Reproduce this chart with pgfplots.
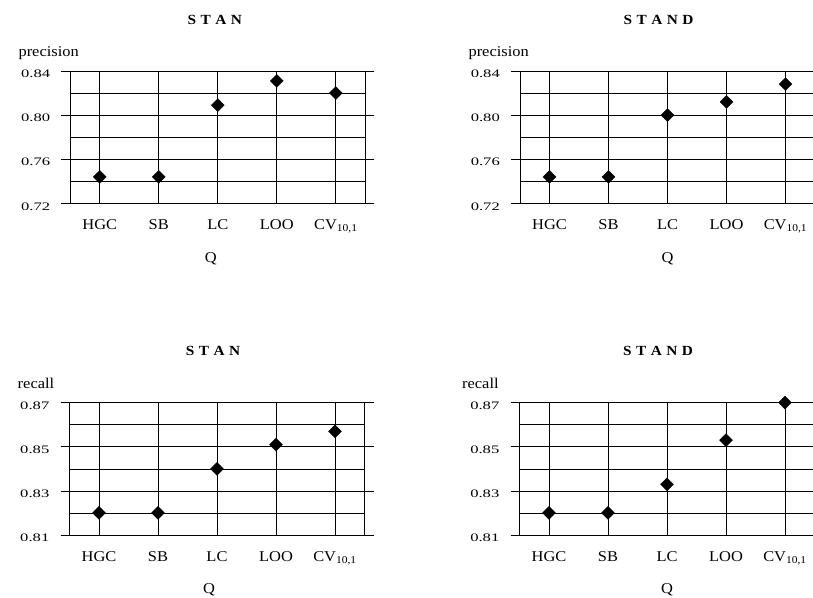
\documentclass[border=0pt]{standalone}
\usepackage{fontspec}
\setmainfont{Liberation Serif}[FakeStretch=1.1]
\newfontfamily\tickfont{Liberation Serif}[FakeStretch=1.45]
\usepackage{pgfplots}
\pgfplotsset{compat=1.18}
\pgfplotsset{
 panel/.style={
  scale only axis, width=295bp, height=132.3bp,
  xmin=-0.5, xmax=4.5, xtick={0,1,2,3,4},
  xticklabels={HGC,SB,LC,LOO,CV\textsubscript{10,1}},
  xmajorgrids, ymajorgrids, yminorgrids,
  grid style={black, line width=0.7bp},
  minor grid style={black, line width=0.7bp},
  axis line style={black, line width=0.7bp},
  tick align=outside, major tick length=9bp, minor tick length=0pt,
  xtick style={draw=none},
  ytick style={black, line width=0.7bp},
  xticklabel style={anchor=base, yshift=-17bp},
  yticklabel style={anchor=east, xshift=-6bp, yshift=-3bp, font=\fontsize{11.5}{13}\tickfont},
  ylabel style={rotate=-90, anchor=base west},
  xlabel=Q,
  xlabel style={anchor=base},
  title style={at={(axis description cs:0.5,1)}, anchor=base, yshift=41bp, font=\fontsize{14}{16}\selectfont\bfseries},
 },
 prec/.style={ymin=0.72, ymax=0.84, ytick={0.72,0.76,0.80,0.84}, yticklabels={0.72,0.76,0.80,0.84}, minor ytick={0.74,0.78,0.82}, ylabel=precision},
 rec/.style={ymin=0.81, ymax=0.87, ytick={0.81,0.83,0.85,0.87}, yticklabels={0.81,0.83,0.85,0.87}, minor ytick={0.82,0.84,0.86}, ylabel=recall},
 pts/.style={only marks, mark=square*, mark size=4.6bp, black, mark options={rotate=45, fill=black, draw=black, line width=0.3bp}},
}
\begin{document}
\fontsize{15}{17}\selectfont
\begin{tikzpicture}
\useasboundingbox (0,0) rectangle (813bp,598bp);
\clip (0,0) rectangle (813bp,598bp);
% top left
\begin{axis}[panel, prec, overlay, at={(70.3bp,394.7bp)}, anchor=south west,
  title={S\kern4.5bp T\kern4.5bp A\kern4.5bp N}, title style={xshift=-3bp},
  ylabel style={at={(axis description cs:-0.193,1.11)}},
  xlabel style={at={(axis description cs:0.5,-0.445)}, xshift=-7bp}]
\addplot[pts] coordinates {(0,0.744) (1,0.744) (2,0.809) (3,0.831) (4,0.820)};
\end{axis}
% top right
\begin{axis}[panel, prec, overlay, at={(520bp,394.7bp)}, anchor=south west,
  title={S\kern4.5bp T\kern4.5bp A\kern4.5bp N\kern4.5bp D}, title style={xshift=-9bp},
  ylabel style={at={(axis description cs:-0.192,1.11)}},
  xlabel style={at={(axis description cs:0.5,-0.445)}}]
\addplot[pts] coordinates {(0,0.744) (1,0.744) (2,0.800) (3,0.812) (4,0.828)};
\end{axis}
% bottom left
\begin{axis}[panel, rec, overlay, at={(69.5bp,63bp)}, anchor=south west,
  title={S\kern4.5bp T\kern4.5bp A\kern4.5bp N}, title style={xshift=-4bp},
  ylabel style={at={(axis description cs:-0.193,1.105)}},
  xlabel style={at={(axis description cs:0.5,-0.445)}, xshift=-8bp}]
\addplot[pts] coordinates {(0,0.820) (1,0.820) (2,0.840) (3,0.851) (4,0.857)};
\end{axis}
% bottom right
\begin{axis}[panel, rec, overlay, at={(519.5bp,63bp)}, anchor=south west,
  title={S\kern4.5bp T\kern4.5bp A\kern4.5bp N\kern4.5bp D}, title style={xshift=-9bp},
  ylabel style={at={(axis description cs:-0.212,1.105)}},
  xlabel style={at={(axis description cs:0.5,-0.445)}}]
\addplot[pts] coordinates {(0,0.820) (1,0.820) (2,0.833) (3,0.853) (4,0.870)};
\end{axis}
\end{tikzpicture}
\end{document}
